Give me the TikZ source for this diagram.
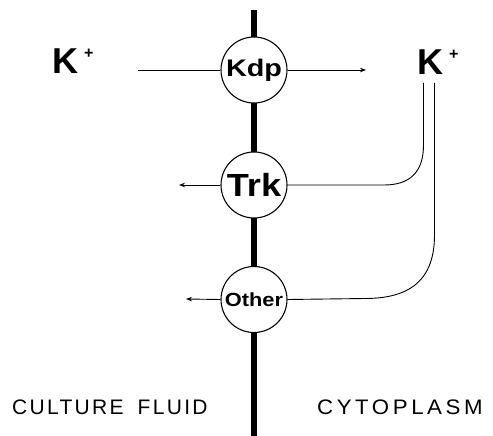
\documentclass[tikz,border=0pt]{standalone}
\usepackage{fontspec}
\setmainfont{Liberation Sans}
\usetikzlibrary{arrows.meta}
\tikzset{
  chan/.style={circle, draw, fill=white, line width=1.1pt, minimum size=66pt, inner sep=0pt},
  flow/.style={line width=0.9pt},
  flowarrow/.style={flow, -{Stealth[length=6pt,width=4.5pt]}},
  ion/.style={inner sep=0pt, anchor=base west, font=\fontsize{36}{36}\selectfont\bfseries},
  region/.style={inner sep=0pt, anchor=west, font=\fontsize{21}{21}\selectfont},
}
\newcommand{\kplus}{K\hspace{6pt}\raisebox{15pt}{\fontsize{16}{16}\selectfont\bfseries +}}
\begin{document}
\begin{tikzpicture}[x=1pt,y=-1pt]
\useasboundingbox (0,0) rectangle (493,436);
% membrane
\draw[line width=6pt] (253.5,10) -- (253.5,436);
% ions
\node[ion] (kl) at (52,74) {\kplus};
\node[ion] (kr) at (417,75) {\kplus};
% free ends
\coordinate (kin) at (138,70);
\coordinate (kout) at (366,70);
\coordinate (trkout) at (179,185);
\coordinate (othout) at (186,299);
\coordinate (r1) at (423.5,83);
\coordinate (r2) at (434.5,83);
% channels
\node[chan] (kdp) at (254,70) {\scalebox{1.2}[1]{\fontsize{24}{24}\selectfont\bfseries Kdp}};
\node[chan] (trk) at (254,185) {\scalebox{1.13}[1]{\fontsize{32}{32}\selectfont\bfseries Trk}};
\node[chan] (oth) at (254,299.5) {\scalebox{1.15}[1]{\fontsize{19}{19}\selectfont\bfseries Other}};
% connectors
\draw[flow] (kin) -- (kdp.west);
\draw[flowarrow] (kdp.east) -- (kout);
\draw[flow] (r1) -- (423.5,145) .. controls (423.5,172) and (410,185) .. (384,185) -- (trk.east);
\draw[flowarrow] (trk.west) -- (trkout);
\draw[flow] (r2) -- (434.5,235) .. controls (434.5,280) and (410,298.5) .. (365,298.5) -- (oth.east);
\draw[flowarrow] (oth.west) -- (othout);
% regions
\node[region] (cf) at (12,407) {\addfontfeature{LetterSpace=11}CULTURE\hspace{14pt}FLUID};
\node[region] (cy) at (317,407) {\scalebox{1.06}[1]{\addfontfeature{LetterSpace=16}CYTOPLASM}};
\end{tikzpicture}
\end{document}
